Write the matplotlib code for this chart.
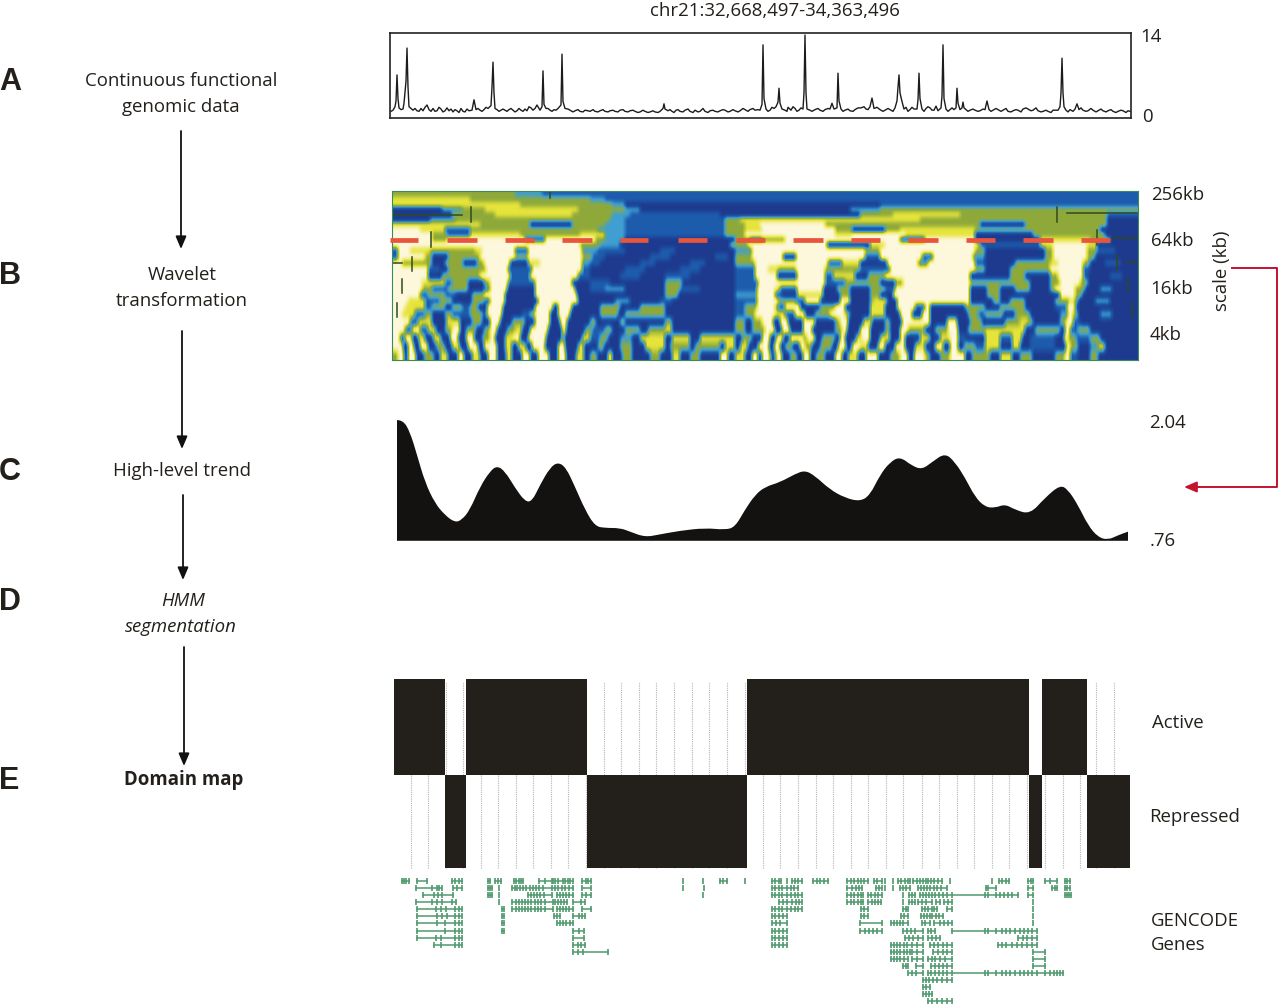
import numpy as np
import matplotlib
matplotlib.use('Agg')
import matplotlib.pyplot as plt
from matplotlib.colors import LinearSegmentedColormap
from matplotlib.path import Path
from matplotlib.patches import PathPatch

W, H = 1280, 1008
FONT = 'Open Sans'
DARK = '#231f1a'
GREEN = '#4f9a6e'

# all x positions below are columns along the chr21 region, same scale in every panel

# panel A, signal
signal_x = [391,393,395,396,397,398,399,401,403,404,405,406,407,408,409,411,413,415,417,419,
            421,425,429,433,437,441,445,449,453,457,461,465,469,472,474,476,480,484,488,491,
            492,493,494,495,497,501,505,509,513,517,521,525,529,533,537,540,542,543,544,546,
            550,554,558,561,562,563,565,570,575,580,585,590,595,600,605,610,615,620,625,630,
            635,640,645,650,655,660,663,664,665,668,672,676,680,685,690,695,700,705,710,715,
            720,725,730,735,740,745,750,755,758,760,762,763,764,766,770,774,776,778,779,780,
            782,785,788,791,795,799,803,804,805,806,807,810,815,820,825,830,832,834,837,838,
            839,841,845,850,855,858,861,864,866,868,870,872,874,877,880,885,890,895,897,898,
            899,900,902,904,906,910,914,917,918,919,920,922,926,930,934,938,941,942,943,944,
            946,950,954,956,957,958,960,962,963,964,966,970,975,980,985,987,989,993,998,1003,
            1008,1013,1018,1023,1028,1033,1038,1043,1048,1053,1058,1060,1061,1062,1063,1064,1066,1070,1075,1077,
            1079,1083,1088,1093,1098,1103,1108,1113,1118,1123,1128,1130]
signal_v = [0.8,1.0,1.6,2.6,7.1,3.0,1.4,1.1,1.2,2.2,4.2,6.0,11.75,5.0,1.6,1.3,1.0,1.3,0.9,0.8,
            1.3,1.5,1.1,1.3,0.9,1.2,0.9,0.9,0.7,0.9,1.3,0.7,0.9,1.0,2.8,1.1,1.0,1.1,1.3,1.8,
            5.0,9.3,4.0,1.3,1.1,1.0,1.0,1.1,1.0,0.9,1.0,1.2,1.6,1.0,1.9,1.0,1.6,7.8,2.0,1.3,
            1.0,1.1,1.3,1.9,10.7,2.5,1.3,1.0,0.9,0.8,1.0,0.8,0.8,0.9,0.8,0.9,0.8,1.0,0.8,0.9,
            0.8,0.7,0.8,0.7,0.7,0.8,1.3,2.1,1.2,0.9,0.8,1.0,0.8,1.0,0.8,1.0,0.8,0.8,0.9,0.8,
            0.9,1.0,0.8,0.9,0.9,1.1,1.1,1.0,1.1,1.0,2.0,12.3,3.0,1.2,1.0,1.3,1.6,2.4,4.8,2.2,
            1.2,1.0,1.5,1.0,1.3,1.0,1.2,4.0,14.0,4.0,1.2,1.0,1.1,1.0,1.1,1.2,2.2,1.2,1.4,7.4,
            2.6,1.2,1.0,0.9,1.1,1.4,1.4,1.6,1.2,1.1,1.6,3.1,1.3,1.5,1.1,1.0,1.1,1.4,2.6,5.0,
            7.1,4.0,2.5,1.2,1.5,1.1,1.2,1.2,2.8,7.4,3.0,1.2,1.3,1.4,1.0,0.9,1.4,3.5,12.3,3.0,
            1.2,1.1,1.1,1.4,4.8,2.2,1.1,1.4,2.4,1.4,1.1,1.0,1.0,0.9,1.1,2.6,1.1,1.0,1.1,1.0,
            0.8,0.9,1.0,1.2,1.2,1.0,0.9,0.8,0.8,1.0,1.0,1.6,4.0,10.0,4.0,1.6,1.0,1.1,1.2,2.1,
            1.1,1.0,0.9,1.0,0.9,0.9,0.9,0.8,0.8,0.9,0.9,0.8]
# baseline wiggle between the points above
wiggle_x = [423,427,431,435,439,443,447,451,455,459,463,467,478,482,486,499,503,507,511,515,519,523,527,531,535,
            548,552,556,568,573,578,583,588,593,598,603,608,613,618,623,628,633,638,643,648,653,658,670,674,678,
            683,688,693,698,703,708,713,718,723,728,733,738,743,748,753,768,772,787,793,797,801,812,818,823,828,
            843,848,853,883,888,893,908,912,924,928,932,936,948,952,968,973,978,983,991,996,1001,1006,1011,1016,1021,
            1026,1031,1036,1041,1046,1051,1056,1068,1073,1081,1086,1091,1096,1101,1106,1111,1116,1121,1126]
wiggle_v = [0.9,1.9,0.8,0.8,1.5,0.7,1.4,1.2,1.1,0.6,0.8,1.2,1.3,0.8,1.5,0.8,1.2,0.8,1.3,0.7,1.3,0.8,0.9,1.4,1.3,
            1.3,0.8,1.0,1.2,0.7,1.1,0.7,0.9,1.1,0.7,1.1,0.7,1.0,0.7,1.1,0.7,1.0,0.6,1.0,0.6,0.9,0.6,1.1,0.6,1.1,
            0.7,1.2,0.6,0.7,1.3,0.6,1.0,0.7,1.1,0.7,1.1,0.7,1.3,0.8,1.3,0.8,1.5,0.8,1.6,0.8,1.4,0.8,1.3,0.8,1.3,
            0.8,1.2,0.8,0.8,1.3,0.8,0.8,1.5,0.8,1.6,1.0,1.7,0.8,1.4,0.8,1.2,0.8,1.2,0.8,1.3,0.8,1.3,0.7,1.1,0.7,1.4,
            0.9,1.4,0.7,1.0,0.6,1.0,0.7,0.8,1.4,0.8,1.3,0.7,1.2,0.7,1.1,0.6,1.0,0.6,1.1]

# panel B, wavelet levels read row by row as (end column, level)
# levels: 0 navy, 1 blue, 2 light blue, 3 green, 4 yellow, 5 cream
scale_tops = [191,197,202,207,212,217,222,227,232,237,242,247,254,260,266,272,280,286,292,298,304,310,318,326,334,342,351]
scale_bottom = 360
wavelet_rows = [
 [(515,3),(542,2),(1138,1)],
 [(470,4),(590,3),(605,2),(1138,1)],
 [(520,4),(612,3),(625,2),(880,0),(1138,1)],
 [(442,0),(462,2),(485,3),(578,4),(625,3),(640,2),(850,0),(880,2),(1138,3)],
 [(452,0),(495,3),(572,4),(612,3),(630,2),(720,1),(860,0),(878,3),(893,3),(960,4),(1107,3),(1138,1)],
 [(430,0),(455,2),(610,3),(625,2),(725,1),(740,3),(830,4),(920,4),(980,3),(1025,3),(1107,3),(1138,0)],
 [(480,4),(530,3),(572,0),(605,3),(625,2),(725,1),(745,3),(760,4),(825,5),(850,3),(885,3),(980,3),(1025,0),(1050,3),(1107,3),(1138,0)],
 [(420,5),(445,4),(470,1),(598,3),(625,2),(725,1),(745,3),(762,4),(835,5),(852,3),(885,0),(900,3),(975,4),(1100,3),(1138,0)],
 [(432,5),(447,3),(470,1),(505,4),(520,4),(580,3),(605,4),(625,2),(725,1),(745,3),(765,5),(835,5),(852,4),(905,5),(975,4),(1033,0),(1105,3),(1138,0)],
 [(432,5),(447,3),(525,5),(545,1),(595,5),(605,3),(625,2),(735,0),(750,3),(762,1),(785,3),(850,5),(900,5),(925,1),(940,5),(975,5),(1040,0),(1090,4),(1110,3),(1138,0)],
 [(435,5),(580,5),(600,3),(620,2),(730,0),(748,3),(762,5),(827,5),(870,0),(885,4),(975,5),(980,4),(1040,1),(1053,4),(1087,5),(1097,4),(1138,0)],
 [(398,1),(410,5),(430,4),(448,3),(475,3),(482,4),(515,5),(528,1),(582,5),(597,2),(625,1),(660,0),(675,1),(735,0),(752,2),(762,5),(865,5),(880,3),(975,5),(985,3),(1045,0),(1053,3),(1087,5),(1097,3),(1115,1),(1138,0)],
 [(398,1),(425,5),(432,3),(448,0),(465,3),(480,3),(515,5),(528,3),(582,5),(592,3),(605,1),(650,0),(670,1),(715,0),(728,1),(735,0),(752,3),(762,5),(783,5),(796,0),(865,5),(880,1),(922,5),(933,1),(973,5),(985,2),(1045,0),(1053,3),(1087,5),(1095,3),(1138,0)],
 [(402,5),(432,3),(445,0),(463,3),(477,0),(484,3),(510,5),(528,0),(540,4),(582,5),(590,2),(600,1),(640,0),(655,1),(690,0),(705,1),(735,0),(755,3),(764,5),(828,5),(842,1),(860,4),(887,0),(918,5),(928,2),(975,5),(985,1),(1015,0),(1050,3),(1058,4),(1083,5),(1090,3),(1105,0),(1120,1),(1138,0)],
 [(428,5),(440,1),(448,0),(478,3),(486,3),(508,5),(532,1),(582,5),(590,1),(625,0),(645,1),(680,0),(700,1),(735,0),(755,1),(768,5),(778,4),(796,3),(825,5),(860,3),(890,1),(975,5),(985,3),(1010,0),(1050,3),(1055,5),(1083,5),(1090,1),(1138,0)],
 [(428,5),(442,0),(480,3),(510,5),(530,1),(578,5),(590,1),(620,0),(640,1),(665,0),(690,1),(735,0),(755,1),(768,5),(777,5),(797,0),(825,5),(833,1),(855,4),(868,0),(885,3),(970,5),(1010,0),(1025,3),(1050,0),(1058,3),(1083,5),(1088,1),(1110,0),(1122,1),(1138,0)],
 [(422,5),(445,4),(452,1),(468,3),(484,0),(490,3),(508,5),(535,1),(572,5),(590,0),(610,1),(640,0),(665,0),(682,3),(735,0),(758,1),(770,5),(825,5),(845,1),(880,3),(895,0),(903,3),(970,5),(985,3),(1030,3),(1050,0),(1060,3),(1080,5),(1088,3),(1138,0)],
 [(422,5),(432,3),(448,1),(468,3),(484,0),(490,2),(507,5),(535,0),(575,5),(590,0),(605,1),(625,2),(665,0),(680,3),(700,1),(735,0),(757,1),(775,5),(780,4),(797,1),(823,5),(837,0),(850,3),(870,0),(885,3),(895,1),(970,5),(987,0),(1000,3),(1015,0),(1030,3),(1050,0),(1055,3),(1075,5),(1085,3),(1100,0),(1112,2),(1138,0)],
 [(420,5),(428,1),(445,3),(456,1),(472,0),(484,3),(505,5),(535,0),(577,5),(665,0),(678,3),(735,0),(757,2),(775,5),(782,1),(797,0),(823,4),(840,0),(850,3),(870,0),(880,3),(893,0),(970,5),(987,0),(1000,3),(1060,0),(1075,5),(1082,3),(1138,0)],
 [(408,5),(425,4),(440,1),(452,3),(472,0),(484,3),(490,1),(505,5),(538,0),(578,5),(615,0),(630,2),(660,0),(672,1),(735,0),(757,1),(778,5),(796,3),(805,1),(820,5),(840,0),(850,5),(870,0),(873,3),(887,4),(897,0),(970,5),(993,0),(1000,3),(1010,0),(1025,3),(1055,0),(1070,3),(1073,5),(1078,3),(1095,0),(1110,2),(1138,0)],
 [(405,5),(425,4),(432,1),(445,3),(452,0),(462,3),(470,1),(478,3),(487,0),(503,5),(535,0),(553,5),(558,0),(572,5),(600,0),(620,3),(640,0),(665,3),(680,0),(735,0),(745,1),(757,3),(775,5),(778,3),(785,1),(800,5),(820,0),(835,3),(845,5),(870,0),(885,4),(897,0),(915,5),(925,1),(930,5),(965,0),(985,3),(1000,0),(1025,3),(1055,0),(1067,1),(1075,5),(1078,1),(1138,0)],
 [(402,5),(415,4),(425,1),(432,3),(445,0),(452,3),(470,1),(482,3),(487,1),(502,5),(522,0),(530,1),(535,3),(550,5),(558,0),(570,5),(600,0),(618,3),(625,0),(665,3),(672,0),(735,0),(745,1),(755,3),(775,5),(785,4),(795,1),(805,5),(815,0),(830,3),(845,5),(850,3),(870,0),(885,4),(900,0),(912,5),(922,0),(930,5),(968,0),(978,3),(985,1),(1003,3),(1015,0),(1030,3),(1060,0),(1068,2),(1073,5),(1078,3),(1100,0),(1112,2),(1138,0)],
 [(410,5),(418,1),(432,4),(446,0),(460,4),(472,0),(482,3),(490,0),(500,5),(512,0),(525,3),(535,0),(550,5),(560,0),(567,5),(590,0),(596,3),(620,0),(625,3),(665,0),(672,3),(735,0),(745,3),(752,0),(762,3),(773,5),(780,0),(788,5),(803,0),(815,5),(835,0),(840,3),(848,5),(863,0),(872,4),(885,0),(890,3),(902,0),(930,5),(947,0),(957,5),(970,0),(982,3),(1005,0),(1020,3),(1028,4),(1033,3),(1060,0),(1066,3),(1073,5),(1080,1),(1138,0)],
 [(405,5),(412,1),(420,5),(428,1),(436,4),(445,0),(452,3),(460,5),(466,0),(476,3),(484,0),(490,3),(497,5),(507,0),(515,3),(522,4),(530,0),(548,5),(562,0),(566,5),(585,0),(592,3),(605,1),(612,3),(625,0),(640,3),(648,0),(665,3),(672,4),(685,0),(735,0),(745,3),(752,0),(765,3),(775,5),(782,0),(790,5),(803,0),(812,5),(835,0),(842,3),(847,5),(860,0),(870,5),(885,0),(890,3),(900,0),(908,5),(925,3),(935,0),(948,3),(958,5),(968,0),(985,3),(1025,4),(1035,0),(1060,3),(1065,0),(1070,5),(1078,1),(1090,3),(1100,0),(1138,0)],
 [(400,5),(405,1),(412,5),(418,0),(425,4),(433,0),(441,4),(450,0),(458,5),(466,0),(474,5),(482,0),(490,3),(495,5),(505,0),(513,4),(520,5),(528,0),(546,5),(562,0),(564,5),(582,0),(590,4),(600,1),(608,3),(620,0),(632,2),(640,0),(665,4),(672,0),(690,4),(700,0),(735,4),(742,0),(752,3),(762,0),(770,5),(776,0),(783,5),(790,0),(803,5),(807,3),(815,5),(822,0),(835,3),(840,0),(845,5),(856,0),(862,4),(870,5),(880,0),(890,4),(900,0),(905,5),(920,0),(930,4),(940,0),(950,4),(958,5),(966,1),(985,0),(1000,4),(1012,1),(1022,4),(1030,0),(1055,1),(1064,0),(1068,5),(1076,3),(1090,1),(1100,3),(1110,0),(1138,0)],
 [(403,5),(408,0),(414,5),(420,0),(428,5),(436,0),(445,3),(452,0),(460,4),(468,0),(478,5),(484,0),(497,5),(505,0),(512,4),(518,0),(526,4),(532,0),(545,5),(558,0),(565,5),(578,0),(584,4),(598,0),(604,3),(620,0),(632,3),(645,0),(665,4),(670,0),(690,3),(695,0),(720,3),(725,0),(735,4),(740,0),(748,4),(758,0),(769,5),(774,0),(780,5),(785,0),(792,3),(800,0),(805,5),(812,3),(820,0),(832,3),(838,0),(846,5),(852,0),(860,5),(868,4),(878,0),(885,5),(895,0),(905,5),(915,0),(925,4),(935,0),(943,5),(950,0),(958,5),(964,0),(975,3),(985,1),(1000,4),(1012,0),(1020,4),(1030,0),(1055,1),(1066,0),(1070,5),(1078,3),(1090,0),(1098,2),(1105,4),(1112,0),(1138,0)],
 [(398,3),(404,5),(408,0),(416,5),(424,0),(434,3),(440,0),(448,4),(458,0),(464,5),(472,0),(480,4),(488,0),(497,5),(506,0),(512,4),(522,0),(530,5),(538,0),(549,5),(558,0),(566,5),(576,0),(584,4),(590,0),(597,3),(608,0),(612,5),(622,0),(632,3),(650,0),(660,3),(672,0),(680,4),(690,0),(700,3),(720,0),(728,5),(735,0),(745,4),(752,0),(758,5),(762,0),(770,5),(776,1),(782,5),(790,0),(797,3),(803,0),(810,5),(816,0),(825,3),(835,0),(842,5),(848,0),(858,4),(866,0),(878,5),(890,0),(900,3),(908,5),(914,0),(925,5),(930,3),(940,0),(950,3),(965,5),(972,0),(990,3),(1000,0),(1012,4),(1020,0),(1032,3),(1055,0),(1065,3),(1070,5),(1078,1),(1090,0),(1098,3),(1110,0),(1138,0)],
]
wavelet_colors = ['#1e3a8e', '#1d5cad', '#3f9fd0', '#8faa3a', '#e6e43a', '#fdf7dc']

cut_starts = [390,447,505,562,620,678,736,793,851,908,966,1023,1081]
cut_ends = [418,477,534,592,648,707,765,823,880,938,995,1053,1110]

# short dark registration marks printed on the wavelet image
mark_v = [(471,207,222),(431,232,247),(412,257,271),(402,279,293),(397,303,317),(550,192,198),
          (1057,207,222),(1097,230,245),(1117,255,270),(1128,278,292),(1132,302,317)]
mark_h = [(392,462,215),(392,402,263),(1067,1137,213),(1112,1137,238),(1126,1137,262)]

# panel C, high level trend
trend_x = [397,403,410,417,425,435,445,455,462,470,480,490,497,505,515,525,532,540,550,558,566,575,585,595,605,
           620,630,645,660,680,705,725,735,745,755,765,780,795,805,815,830,845,860,870,880,890,900,912,922,932,
           945,955,965,975,985,995,1005,1015,1030,1045,1060,1068,1078,1088,1098,1108,1118,1128]
trend_v = [2.06,2.06,1.93,1.68,1.38,1.15,1.02,0.94,0.97,1.08,1.33,1.50,1.56,1.50,1.32,1.17,1.17,1.35,1.54,1.60,1.54,1.33,1.08,0.90,0.88,
           0.88,0.84,0.78,0.81,0.85,0.88,0.86,0.89,1.08,1.24,1.33,1.38,1.47,1.51,1.45,1.30,1.21,1.17,1.24,1.46,1.60,1.66,1.56,1.52,1.60,
           1.70,1.60,1.43,1.22,1.11,1.10,1.14,1.08,1.03,1.21,1.35,1.30,1.13,0.91,0.78,0.75,0.80,0.84]
trend_floor = 0.74

# panels D/E, domain map
domain_edges = [394,445,466,587,747,1029,1042,1087,1130]
domain_states = ['Active','Repressed','Active','Repressed','Active','Repressed','Active','Repressed']
state_bottom = {'Active': 0.5, 'Repressed': -0.5}
state_height = {'Active': 1.03, 'Repressed': 1}
grid_x = [411,428,446,463,481,498,516,533,551,568,586,604,621,639,656,674,692,709,727,745,
          763,780,798,816,833,851,868,886,903,922,939,957,974,992,1009,1027,1045,1063,1080,1096,1114]

# gencode transcripts, one list per display row, each transcript is its exon columns
gene_rows = [
 [[402,404,406,409],[417,427],[452,455,459,462],[488,490],[495,498,501],[514,516,519,521,523],[539,545,552,553],[555,558,563,565,568,570,573],[582,586,588,591],
  [683],[703],[720,723,727],[745],[772,775,779,781],[787],[792,795,798,802],[813,817,820,824,828],[847,851,854,858,861,864,868],[874,877,882],[885],[893],[898,901,905,908,910],
  [913,917,920,923,926],[928,931,934,938,942],[950],[992],[999,1002,1006,1009],[1028,1031,1033],[1045,1050,1057],[1065,1067,1070]],
 [[416,432,437,439,442],[453,457,462],[488,490,492],[499],[512,515,517,520,523,526,530,533,536,539,543,552,555,558,562,565,569,573],[582,591],[683],[704],
  [772,775,779,782,787,791,794,798],[847,852,856,859,862],[876,879,882],[885],[893],[900,903,906,910],[918,921,924,927,930,934,937,941,947],[986,988,996],[1028,1033],[1052,1055,1057],[1065,1067,1070]],
 [[423,434,438,442,453],[488,490,492],[499],[528,531,534,537,540,544,552],[557,560,563,566,569,573],[582,586,591],[703],
  [772,775,779,782,787,791,795,798,802],[847,851,854,858,861,863],[868,871,875,878,882],[903],[909,912,915],[920,923,926,929,932,935,939,943,947,952,985,988,996,1000,1004,1008,1012,1018],[1028,1033],[1065,1067,1069,1071]],
 [[416,432,437,442,452,456],[499],[512,516,519,522,525,528,531,535,538,541,545,553],[555,558,561,564,567],[573,581,585],
  [779,783,787,792,796,799,802],[847,851,854,858,861,863],[868,872,875,878,881],[903],[909,912,915],[918,922,926,932],[936,940],[944,948,952],[1033]],
 [[417,436,441,446,455,459,462],[502,504],[512,516,519,522,525,528,531,535,538,541,545,553],[557,560,563,566,569,573],[582,591],
  [772,775,779,782,787,791,795,798,802],[861,864,868],[903,906,908],[922,925,928,932],[934,937],[947,952],[1033]],
 [[417,437,442,447,455,459,462],[502,504],[554,557,560],[573,579,582,585],
  [772,775,779,783,787],[861,864,868],[901,904,908],[921,924,927,930],[932,936,939,943],[1033]],
 [[417,437,445,455,459,462],[502,504],[557,560,563,566,570,573],
  [772,776,780,787],[860,882],[891,894,897,900,903,908],[922,925,930],[934,940,944,948,952],[1033]],
 [[417,445,455,459,462],[502,504],[573,579,584],
  [772,775,779,783,787],[860,865,869,873,877,882],[903,907,911,915,923],[928,931,935],[952,985,988,996,1002,1006,1010,1015,1020,1024,1028,1032,1037]],
 [[417,436,441,455,459,462],[573,584],
  [772,775,779,783,787],[905,909,913,918,923],[928,932,936,940],[1018,1023,1027,1032,1037]],
 [[434,441,455,459,462],[573,578,581,585],
  [772,775,779,783,787],[891,894,897,900,904,907,912,917,923],[930,934,938,943,947,952],[998,1002,1006,1012,1017,1022,1027,1032,1037]],
 [[573,578,583,608],
  [891,894,897,900,904,907,910],[912,917,923],[933,938,943,947,952],[1033,1045]],
 [[891,894,897,900,904,908],[912,917,923],[928,932,935,940,945,952],[1033,1045]],
 [[903,906,908],[916,923],[931,935,939,943,947,952],[1033,1045]],
 [[908,912,916,923],[928,931,935,939,943,947,952,985,988,996,1002,1006,1010,1015,1020,1024,1028,1032,1037,1045,1050,1054,1057,1060,1063]],
 [[923,926,929,933,937,942,947,952]],
 [[923,926,930]],
 [[923,926,929,932]],
 [[928,932,937,942,947,952]],
]


def panel(x0, y0, x1, y1):
    # axes from a box in image pixels
    ax = fig.add_axes([x0/W, 1-y1/H, (x1-x0)/W, (y1-y0)/H])
    return ax


fig = plt.figure(figsize=(W/100, H/100), dpi=100, facecolor='white')

# overlay for the labels and arrows
over = fig.add_axes([0, 0, 1, 1], zorder=5)
over.set_xlim(0, W)
over.set_ylim(H, 0)
over.axis('off')
over.patch.set_alpha(0)

# A
ax = panel(390, 33, 1131, 118)
order = np.argsort(signal_x + wiggle_x)
ax.plot(np.array(signal_x + wiggle_x)[order], np.array(signal_v + wiggle_v)[order], color='#1c1c1c', lw=1.0)
ax.set_xlim(390, 1131)
ax.set_ylim(-0.35, 14.35)
ax.set_xticks([])
ax.set_yticks([])
for s in ax.spines.values():
    s.set_linewidth(1.2)
    s.set_color('#222222')

# B
ax = panel(392, 191, 1138, 360)
columns = np.arange(392, 1138) + 0.5
tops = scale_tops + [scale_bottom]
coarse = np.zeros((len(wavelet_rows), len(columns)))
for i, row in enumerate(wavelet_rows):
    ends = np.array([r[0] for r in row])
    vals = np.array([r[1] for r in row], dtype=float)
    idx = np.clip(np.searchsorted(ends, columns), 0, len(vals)-1)
    coarse[i, :] = vals[idx]
# soften the read-off steps so the levels flow into each other
centers = [(tops[i]+tops[i+1])/2 for i in range(len(wavelet_rows))]
ypix = np.arange(tops[0], scale_bottom) + 0.5
levels = np.apply_along_axis(lambda c: np.interp(ypix, centers, c), 0, coarse)
kv = np.ones(5)/5
kh = np.ones(5)/5
pad = 6
levels = np.pad(levels, pad, mode='edge')
levels = np.apply_along_axis(lambda c: np.convolve(c, kv, mode='same'), 0, levels)
levels = np.apply_along_axis(lambda c: np.convolve(c, kh, mode='same'), 1, levels)
levels = levels[pad:-pad, pad:-pad]
cmap = LinearSegmentedColormap.from_list('wavelet', wavelet_colors)
ax.imshow(levels, cmap=cmap, vmin=0, vmax=5, aspect='auto', interpolation='bilinear',
          extent=[392, 1138, scale_bottom, tops[0]])
for x, y0, y1 in mark_v:
    ax.plot([x, x], [y0, y1], color='#2f4a1f', lw=1.1)
for x0, x1, y in mark_h:
    ax.plot([x0, x1], [y, y], color='#2f4a1f', lw=1.1)
ax.hlines([239.5]*len(cut_starts), cut_starts, cut_ends, color='#e8543c', lw=3.4, clip_on=False, zorder=6)
ax.set_xlim(392, 1138)
ax.set_ylim(scale_bottom, tops[0])
ax.set_xticks([])
ax.set_yticks([])
for s in ax.spines.values():
    s.set_linewidth(0.8)
    s.set_color('#3a8a5a')

# C, quadratic curve through the midpoints keeps the outline round
ax = panel(390, 410, 1131, 545)
px = np.array(trend_x, dtype=float)
pv = np.array(trend_v)
verts = [(px[0], trend_floor), (px[0], pv[0])]
codes = [Path.MOVETO, Path.LINETO]
for i in range(1, len(px)-1):
    verts += [(px[i], pv[i]), ((px[i]+px[i+1])/2, (pv[i]+pv[i+1])/2)]
    codes += [Path.CURVE3, Path.CURVE3]
verts += [(px[-1], pv[-1]), (px[-1], trend_floor), (px[0], trend_floor)]
codes += [Path.LINETO, Path.LINETO, Path.CLOSEPOLY]
ax.add_patch(PathPatch(Path(verts, codes), facecolor='#141210', lw=0))
ax.set_xlim(390, 1131)
ax.set_ylim(0.694, 2.17)
ax.axis('off')

# D/E
ax = panel(390, 675, 1135, 870)
ax.vlines(grid_x, 0.5, 1.5, color='#b5b5b5', lw=0.8, ls=(0, (1, 1)), zorder=1)
ax.vlines(grid_x, -0.5, 0.5, color='#b5b5b5', lw=0.8, ls=(0, (1, 1)), zorder=1)
for i, st in enumerate(domain_states):
    ax.bar(domain_edges[i], state_height[st], width=domain_edges[i+1]-domain_edges[i], bottom=state_bottom[st],
           align='edge', color=DARK, lw=0, zorder=3)
ax.set_xlim(390, 1135)
ax.set_ylim(-0.5215, 1.575)
ax.axis('off')

# genes
ax = panel(390, 875, 1135, 1008)
for r, transcripts in enumerate(gene_rows):
    for exons in transcripts:
        ax.plot([exons[0], exons[-1]], [r, r], color=GREEN, lw=1.1)
        ax.plot(exons, [r]*len(exons), ls='none', marker='|', ms=4.5, mew=1.2, color=GREEN)
ax.set_xlim(390, 1135)
ax.set_ylim(17.95, -0.85)
ax.axis('off')

# text
TS = 13.4
over.text(775, 10.5, 'chr21:32,668,497-34,363,496', ha='center', va='center', fontsize=TS, family=FONT, color=DARK)
right_labels = [(1151, 36.5, '14'), (1147, 117.5, '0'), (1178, 195.5, '256kb'), (1172, 241.5, '64kb'),
                (1172, 288.5, '16kb'), (1166, 335.5, '4kb'), (1167, 423.5, '2.04'), (1163, 540.5, '.76'),
                (1178, 723.5, 'Active'), (1195, 816.5, 'Repressed'), (1195, 921.5, 'GENCODE'), (1178, 945.5, 'Genes')]
for x, y, s in right_labels:
    over.text(x, y, s, ha='center', va='center', fontsize=TS, family=FONT, color=DARK)
over.text(1222, 271, 'scale (kb)', rotation=90, ha='center', va='center', fontsize=TS, family=FONT, color=DARK)

left_labels = [(181, 80.5, 'Continuous functional', 'normal', 'normal'), (181, 106.5, 'genomic data', 'normal', 'normal'),
               (182, 274.5, 'Wavelet', 'normal', 'normal'), (182, 300.5, 'transformation', 'normal', 'normal'),
               (182, 470.5, 'High-level trend', 'normal', 'normal'),
               (183, 600.5, 'HMM', 'italic', 'normal'), (181, 626.5, 'segmentation', 'italic', 'normal'),
               (184, 780.5, 'Domain map', 'normal', 'bold')]
for x, y, s, st, wt in left_labels:
    over.text(x, y, s, ha='center', va='center', fontsize=TS, family=FONT, style=st, weight=wt, color=DARK)

for s, y in zip(['A', 'B', 'C', 'D', 'E'], [82, 276, 472, 602, 781]):
    over.text(-1, y, s, ha='left', va='center', fontsize=22, family='Liberation Sans', weight='bold', color=DARK)

# process arrows
for x, y0, y1 in [(181, 131, 249), (182, 331, 449), (183, 495, 580), (184, 647, 766)]:
    over.annotate('', xy=(x, y1), xytext=(x, y0),
                  arrowprops=dict(arrowstyle='-|>,head_width=0.32,head_length=0.75', color='#111111', lw=1.3, shrinkA=0, shrinkB=0))

# red link from the scale axis to the trend
over.plot([1232, 1277, 1277, 1195], [268, 268, 487, 487], color='#c4122f', lw=1.4)
over.annotate('', xy=(1184, 487), xytext=(1200, 487),
              arrowprops=dict(arrowstyle='-|>,head_width=0.32,head_length=0.75', color='#c4122f', lw=1.4, shrinkA=0, shrinkB=0))

fig.savefig('out.png', dpi=100)
